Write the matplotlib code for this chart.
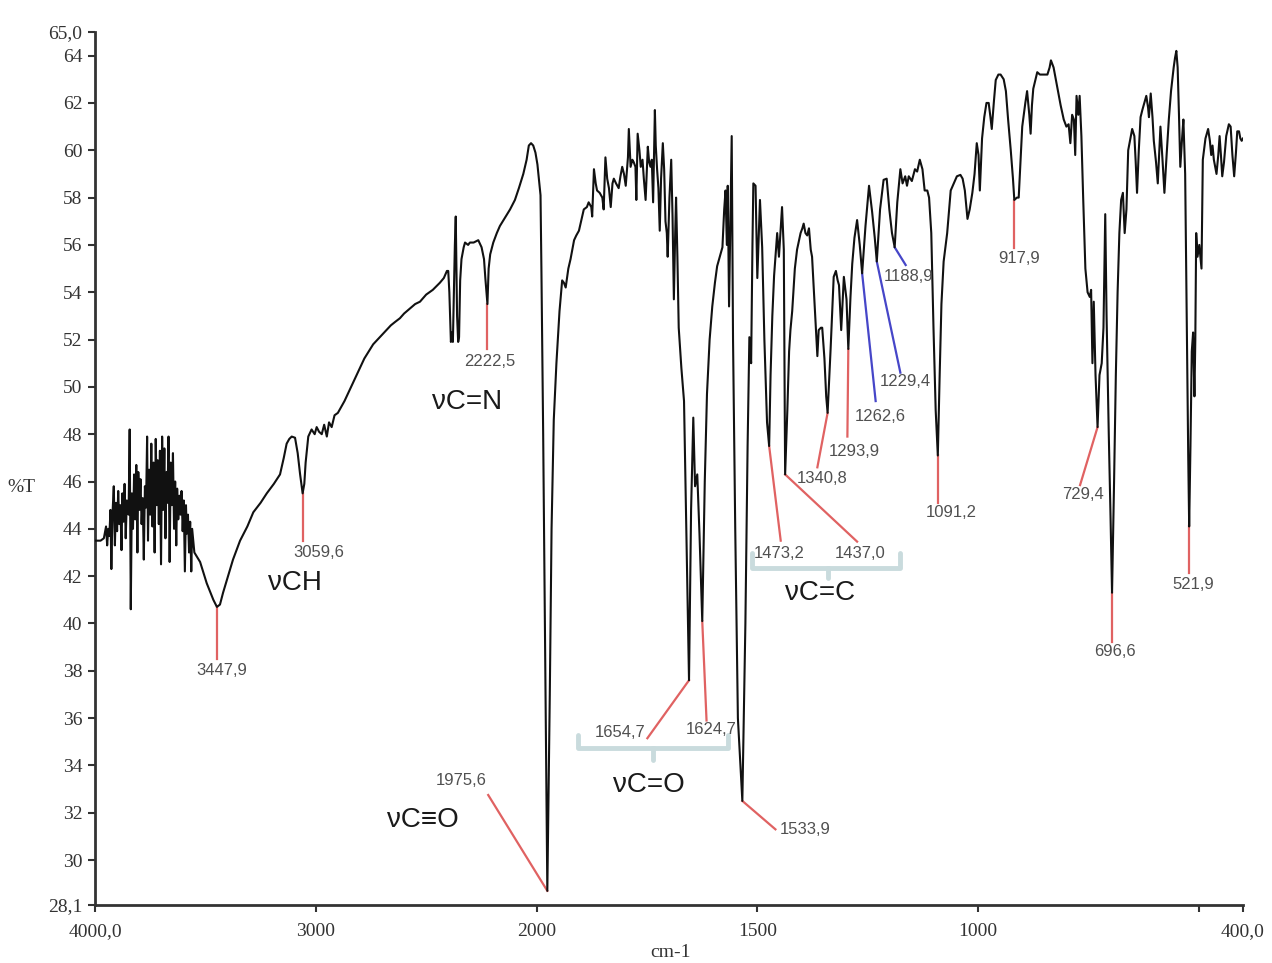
import numpy as np
import matplotlib
matplotlib.use("Agg")
import matplotlib.pyplot as plt

# IR spectrum: (wavenumber cm-1, %T)
spectrum_high = [
    (3999, 43.5), (3975, 43.5), (3960, 43.6), (3950, 44.1), (3945, 43.3), (3940, 44.0),
    (3935, 43.7), (3930, 44.8), (3926, 42.3), (3921, 44.6), (3915, 45.8), (3910, 43.3),
    (3905, 45.1), (3900, 43.9), (3895, 45.6), (3890, 44.2), (3885, 45.0), (3880, 43.1),
    (3876, 45.5), (3871, 44.3), (3866, 45.9), (3861, 43.6), (3856, 45.2), (3848, 44.6),
    (3843, 48.2), (3838, 40.6), (3833, 45.5), (3828, 44.0), (3823, 46.3), (3818, 44.4),
    (3813, 46.7), (3808, 43.0), (3804, 46.4), (3799, 44.8), (3794, 46.1), (3789, 44.2),
    (3784, 45.3), (3779, 42.7), (3774, 45.8), (3769, 44.9), (3764, 47.9), (3760, 43.5),
    (3755, 46.5), (3750, 44.6), (3745, 47.6), (3740, 44.1), (3735, 46.8), (3730, 43.0),
    (3725, 47.8), (3720, 45.0), (3716, 46.9), (3711, 44.2), (3706, 47.3), (3701, 42.5),
    (3696, 47.9), (3691, 44.8), (3686, 47.4), (3681, 43.6), (3676, 46.4), (3672, 45.1),
    (3667, 47.9), (3662, 42.6), (3657, 46.8), (3652, 45.0), (3647, 47.2), (3642, 44.0),
    (3637, 46.0), (3632, 43.3), (3628, 45.7), (3623, 44.4), (3618, 45.4), (3613, 44.6),
    (3608, 45.6), (3603, 43.9), (3598, 45.2), (3593, 42.2), (3588, 45.0), (3584, 43.8),
    (3579, 44.6), (3574, 43.0), (3569, 44.3), (3564, 42.2), (3560, 44.0), (3550, 43.0),
    (3524, 42.6), (3494, 41.7),
    (3464, 41.0), (3447.9, 40.7), (3434, 40.8), (3420, 41.3), (3404, 41.8), (3375, 42.7),
    (3343, 43.5), (3310, 44.1), (3283, 44.7), (3250, 45.1), (3222, 45.5), (3190, 45.9),
    (3162, 46.3), (3145, 47.0), (3132, 47.6), (3120, 47.8), (3109, 47.9), (3094, 47.85),
    (3082, 47.2), (3071, 46.3), (3059.6, 45.5), (3052, 45.9), (3046, 46.8), (3034, 47.9),
    (3019, 48.2), (3005, 48.0), (2996, 48.3), (2985, 48.1), (2973, 48.0), (2962, 48.4),
    (2950, 47.9), (2940, 48.5), (2928, 48.3), (2915, 48.8), (2900, 48.9), (2870, 49.4),
    (2845, 49.9), (2820, 50.4), (2800, 50.8), (2780, 51.2), (2760, 51.5), (2740, 51.8),
    (2720, 52.0), (2700, 52.2), (2680, 52.4), (2660, 52.6), (2640, 52.75), (2619, 52.9),
    (2600, 53.1), (2575, 53.3), (2550, 53.5), (2528, 53.6), (2500, 53.9), (2470, 54.1),
    (2438, 54.4), (2420, 54.6), (2406, 54.9), (2400, 54.9), (2395, 54.0), (2388, 51.9),
    (2383, 52.3), (2379, 51.9), (2370, 56.0), (2366, 57.2), (2360, 53.0), (2355, 51.9),
    (2351, 52.1), (2346, 54.5), (2340, 55.4), (2330, 55.9), (2324, 56.1), (2310, 56.0),
    (2302, 56.1), (2285, 56.1), (2264, 56.2), (2249, 55.9), (2238, 55.4), (2232, 54.6),
    (2222.5, 53.5), (2217, 55.0), (2210, 55.6), (2196, 56.1), (2180, 56.5), (2166, 56.8),
    (2140, 57.2), (2120, 57.5), (2098, 57.9), (2080, 58.4), (2060, 59.0), (2045, 59.6),
    (2035, 60.2), (2025, 60.3), (2015, 60.2), (2005, 59.9),
]

spectrum_mid = [
    (1998, 59.4), (1991, 58.1), (1989, 55.0), (1985, 48.0), (1980, 38.0), (1975.6, 28.7),
    (1970, 37.0), (1966, 44.0), (1961, 48.6), (1955, 51.0), (1948, 53.2), (1942, 54.5),
    (1938, 54.4), (1934, 54.2), (1928, 55.0), (1923, 55.4), (1915, 56.2), (1910, 56.4),
    (1904, 56.6), (1898, 57.1), (1893, 57.5), (1886, 57.6), (1882, 57.8), (1876, 57.6),
    (1874, 57.2), (1870, 59.2), (1866, 58.6), (1863, 58.3), (1857, 58.2), (1851, 58.0),
    (1848, 57.5), (1844, 59.7), (1840, 58.8), (1836, 58.4), (1832, 57.6), (1828, 58.6),
    (1825, 58.8), (1820, 58.6), (1814, 58.4), (1810, 58.9), (1806, 59.3), (1802, 59.0),
    (1798, 58.5), (1793, 59.7), (1791, 60.9), (1787, 59.3), (1783, 59.6), (1780, 59.5),
    (1776, 59.3), (1774, 57.9), (1771, 60.7), (1767, 60.0), (1764, 59.3), (1760, 59.6),
    (1757, 58.8), (1753, 57.9), (1748, 60.15), (1745, 59.5), (1742, 59.3), (1739, 59.6),
    (1736, 57.8), (1732, 61.7), (1730, 60.2), (1727, 59.2), (1724, 58.4), (1721, 56.6),
    (1718, 58.8), (1714, 60.3), (1711, 59.2), (1708, 57.0), (1705, 56.5), (1703, 55.5),
    (1699, 58.0), (1695, 59.6), (1692, 57.2), (1689, 53.7), (1686, 56.5), (1684, 58.0),
    (1681, 55.5), (1678, 52.5), (1672, 50.8), (1666, 49.4), (1660, 43.0), (1654.7, 37.6),
    (1650, 44.8), (1645, 48.7), (1641, 45.8), (1636, 46.3), (1631, 43.8), (1624.7, 40.1),
    (1619, 46.0), (1614, 49.7), (1608, 52.0), (1602, 53.4), (1596, 54.4), (1591, 55.1),
    (1585, 55.5), (1579, 55.9), (1575, 57.5), (1572, 58.3), (1569, 56.0), (1567, 58.5),
    (1564, 53.4), (1561, 57.0), (1558, 60.6), (1555, 52.0), (1550, 44.0), (1544, 36.0),
    (1533.9, 32.5), (1527, 40.0), (1522, 47.5), (1518, 52.1), (1514, 51.0), (1511, 56.0),
    (1509, 58.6), (1504, 58.5), (1500, 54.6), (1494, 57.9), (1489, 55.9), (1484, 52.0),
    (1478, 48.5), (1473.2, 47.5), (1470, 50.5), (1466, 53.0), (1462, 54.7), (1455, 56.5),
    (1451, 55.5), (1444, 57.6), (1440, 55.8), (1437.0, 46.3), (1432, 49.0), (1428, 51.5),
    (1425, 52.4), (1421, 53.2), (1415, 55.0), (1410, 55.8), (1402, 56.5), (1398, 56.7),
    (1395, 56.9), (1391, 56.5), (1387, 56.4), (1383, 56.7), (1379, 55.8), (1376, 55.5),
    (1370, 53.4), (1364, 51.3), (1361, 52.4), (1356, 52.5), (1353, 52.5), (1348, 51.2),
    (1344, 49.6), (1340.8, 48.9), (1334, 51.6), (1327, 54.65), (1322, 54.9), (1318, 54.5),
    (1315, 54.3), (1310, 52.4), (1307, 53.5), (1304, 54.65), (1298, 53.7), (1293.9, 51.6),
    (1289, 53.8), (1285, 55.2), (1280, 56.3), (1274, 57.05), (1268, 56.0), (1262.6, 54.8),
    (1255, 56.8), (1247, 58.5), (1240, 57.4), (1234, 56.3), (1229.4, 55.3), (1222, 57.5),
    (1214, 58.75), (1207, 58.8), (1201, 57.5), (1195, 56.5), (1188.9, 55.9), (1183, 57.8),
    (1176, 59.2), (1171, 58.6), (1165, 58.9), (1161, 58.5), (1157, 58.9), (1150, 58.7),
    (1143, 59.2), (1138, 59.1), (1132, 59.6), (1126, 59.2), (1121, 58.3), (1115, 58.3),
    (1111, 58.0), (1106, 56.5), (1101, 52.5), (1096, 49.0), (1091.2, 47.1), (1087, 50.5),
    (1083, 53.5), (1078, 55.3), (1070, 56.5), (1062, 58.3), (1055, 58.6), (1048, 58.9),
    (1040, 58.96), (1035, 58.8), (1030, 58.3), (1024, 57.1), (1019, 57.5), (1013, 58.2),
    (1008, 59.0), (1003, 60.3),
]

spectrum_low = [
    (999, 59.8), (996, 58.3), (991, 60.5), (986, 61.4), (981, 62.0), (976, 62.0),
    (972, 61.4), (969, 60.9), (964, 62.1), (960, 62.97), (954, 63.2), (949, 63.2),
    (942, 63.0), (937, 62.5), (932, 61.3), (926, 60.0), (921, 58.8), (917.9, 57.9),
    (912, 58.0), (908, 58.0), (904, 59.5), (900, 61.0), (893, 62.0), (889, 62.5),
    (884, 61.5), (881, 60.7), (878, 61.9), (875, 62.6), (870, 63.0), (866, 63.3),
    (860, 63.2), (851, 63.2), (843, 63.2), (838, 63.5), (835, 63.8), (829, 63.5),
    (821, 62.7), (813, 61.9), (806, 61.3), (800, 61.0), (795, 61.1), (791, 60.3),
    (787, 61.5), (783, 61.3), (780, 59.8), (777, 62.3), (773, 61.5), (770, 62.3),
    (766, 60.6), (762, 58.0), (757, 55.0), (752, 54.0), (747, 53.8), (744, 54.1),
    (741, 51.0), (738, 53.6), (734, 50.5), (729.4, 48.3), (725, 50.5), (720, 51.0),
    (716, 52.5), (712, 57.3), (709, 53.0), (704, 48.0), (700, 44.5), (696.6, 41.3),
    (692, 46.0), (688, 50.5), (684, 54.0), (680, 56.5), (676, 57.9), (672, 58.2),
    (668, 56.5), (664, 57.5), (660, 60.0), (655, 60.5), (651, 60.9), (646, 60.6),
    (643, 59.5), (640, 58.2), (636, 60.0), (632, 61.4), (628, 61.7), (625, 61.9),
    (619, 62.3), (615, 61.8), (613, 61.4), (609, 62.4), (605, 61.4), (602, 60.4),
    (597, 59.5), (593, 58.6), (590, 59.8), (587, 61.0), (582, 59.5), (578, 58.2),
    (573, 59.8), (568, 61.3), (563, 62.5), (557, 63.5), (554, 63.9), (551, 64.2),
    (548, 63.5), (545, 61.5), (542, 59.3), (538, 60.5), (535, 61.3), (531, 59.0),
    (527, 52.0), (524, 47.0), (521.9, 44.1), (519, 47.5), (516, 51.5), (513, 52.3),
    (510, 49.6), (508, 52.0), (506, 56.5), (503, 55.5), (499, 56.0), (494, 55.0),
    (491, 59.6), (485, 60.5), (479, 60.9), (475, 60.4), (472, 59.8), (469, 60.2),
    (466, 59.6), (460, 59.0), (456, 59.8), (453, 60.6), (450, 59.8), (447, 58.9),
    (443, 59.5), (438, 60.6), (432, 61.1), (428, 61.0), (424, 59.8), (420, 58.9),
    (416, 59.9), (413, 60.8), (409, 60.8), (406, 60.5), (403, 60.4), (400, 60.5),
]

# labelled peaks
peak_wn = [3447.9, 3059.6, 2222.5, 1975.6, 1654.7, 1624.7, 1533.9, 1473.2, 1437.0,
           1340.8, 1293.9, 1262.6, 1229.4, 1188.9, 1091.2, 917.9, 729.4, 696.6, 521.9]
blue_peaks = [1262.6, 1229.4, 1188.9]

# band assignments
band_text = ["\u03bdCH", "\u03bdC=N", "\u03bdC\u2261O", "\u03bdC=O", "\u03bdC=C"]

x_ticks = [4000, 3000, 2000, 1500, 1000, 500, 400]
x_ticklabels = ["4000,0", "3000", "2000", "1500", "1000", "", "400,0"]
y_ticks = [28.1] + list(range(30, 65, 2)) + [65.0]
y_ticklabels = ["28,1"] + [str(v) for v in range(30, 65, 2)] + ["65,0"]

# layout of the peak callouts: end of the leader line, centre of the text
leader_end = [(3447.9, 38.5), (3059.6, 43.5), (2222.5, 51.6), (2219, 32.75),
              (1749, 35.15), (1615, 35.9), (1459, 31.3), (1447, 43.5), (1274, 43.46),
              (1364, 46.6), (1296, 47.9), (1232, 49.4), (1176, 50.6), (1164, 55.15),
              (1091.2, 45.1), (917.9, 55.86), (769, 45.85), (696.6, 39.23), (521.9, 42.12)]
label_pos = [(3425, 38.0), (2985, 43.0), (2211, 51.07), (2340, 33.36),
             (1810, 35.38), (1604, 35.5), (1391, 31.3), (1451, 42.97), (1268, 42.97),
             (1353, 46.14), (1281, 47.26), (1221, 48.74), (1164, 50.22), (1157, 54.66),
             (1060, 44.67), (908, 55.44), (762, 45.43), (690, 38.81), (512, 41.63)]
band_pos = [(3094, 41.7), (2315, 49.36), (2514, 31.7), (1746, 33.17), (1357, 41.29)]
brackets = [(1905, 1567, 1737, 35.3, 34.74, 34.23),
            (1511, 1176, 1341, 42.98, 42.35, 41.92)]


def fwd(x):
    x = np.asarray(x, dtype=float)
    return np.where(x > 2000, 2000 + (x - 2000) / 2.0, x)


def inv(y):
    y = np.asarray(y, dtype=float)
    return np.where(y > 2000, 2000 + (y - 2000) * 2.0, y)


data = np.array(spectrum_high + spectrum_mid + spectrum_low)
wn, tr = data[:, 0], data[:, 1]

fig = plt.figure(figsize=(12.72, 9.63), dpi=100)
ax = fig.add_axes([0.0747, 0.0602, 0.9025, 0.9066])
ax.set_xscale('function', functions=(fwd, inv))

ax.plot(wn, tr, color='#111111', linewidth=1.5, zorder=3)

ax.set_xlim(4000, 400)
ax.set_ylim(28.1, 65.0)

ax.set_xticks(x_ticks)
ax.set_xticklabels(x_ticklabels)
ax.set_yticks(y_ticks)
ax.set_yticklabels(y_ticklabels)
ax.minorticks_off()

serif = {'family': 'Liberation Serif', 'size': 14, 'color': '#333333'}
for lab in ax.get_xticklabels() + ax.get_yticklabels():
    lab.set_fontfamily('Liberation Serif')
    lab.set_fontsize(14)
    lab.set_color('#333333')
ax.tick_params(axis='both', direction='out', length=5, width=1.5, color='#333333')
ax.tick_params(axis='x', pad=8)
ax.tick_params(axis='y', pad=4)

for side in ['top', 'right']:
    ax.spines[side].set_visible(False)
for side in ['left', 'bottom']:
    ax.spines[side].set_color('#333333')
    ax.spines[side].set_linewidth(2.0)

ax.text(-0.064, 0.478, '%T', transform=ax.transAxes, ha='center', va='center', **serif)
ax.text(0.501, -0.054, 'cm-1', transform=ax.transAxes, ha='center', va='center', **serif)

# peak callouts
for w, end, pos in zip(peak_wn, leader_end, label_pos):
    t = np.interp(w, wn[::-1], tr[::-1])
    col = '#4646c8' if w in blue_peaks else '#e06262'
    ax.plot([w, end[0]], [t, end[1]], color=col, linewidth=1.6, zorder=2)
    ax.text(pos[0], pos[1], "{:.1f}".format(w).replace('.', ','),
            ha='center', va='center', fontsize=12,
            family='Liberation Sans', color='#505050', zorder=4)

# curly brackets grouping the carbonyl and C=C bands
for x1, x2, xc, ytop, ymid, ybot in brackets:
    ax.plot([x1, x1, x2, x2], [ytop, ymid, ymid, ytop], color='#c9dbdd',
            linewidth=3.5, solid_joinstyle='round', solid_capstyle='round', zorder=1)
    ax.plot([xc, xc], [ymid, ybot], color='#c9dbdd', linewidth=3.5,
            solid_capstyle='round', zorder=1)

for txt, pos in zip(band_text, band_pos):
    ax.text(pos[0], pos[1], txt, ha='center', va='center', fontsize=20,
            family='Liberation Sans', color='#1a1a1a', zorder=4)

fig.savefig('out.png', dpi=100)
